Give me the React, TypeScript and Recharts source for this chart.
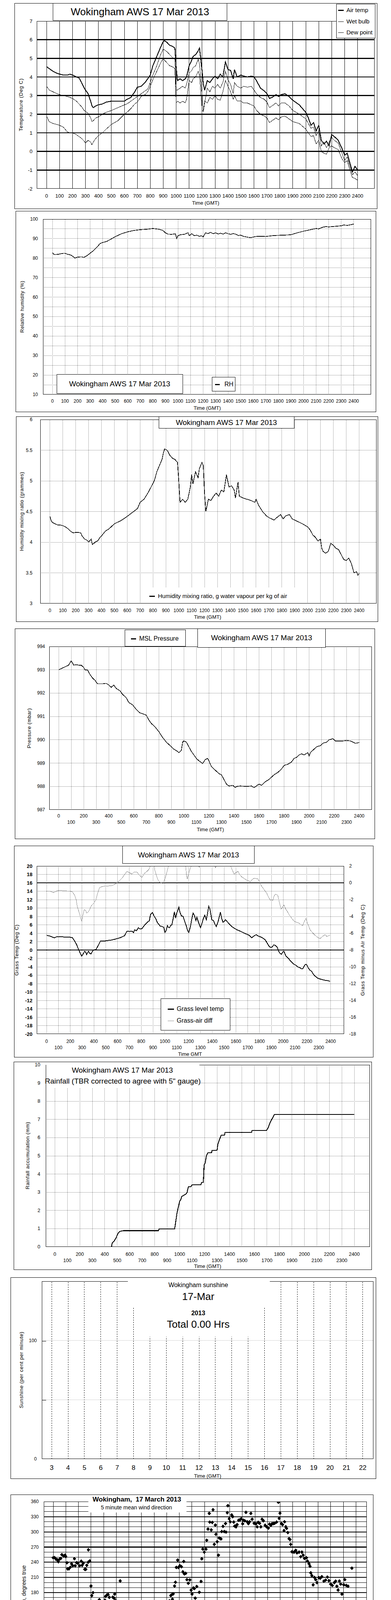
import React from "react";
import { ComposedChart, Line, Scatter, XAxis, YAxis, ReferenceLine } from "recharts";

const FONT = '"Liberation Sans", Arial, Helvetica, sans-serif';
type Pt = [number, number];

// 1. temperatures, time as hhmm, deg C
const airTemp: Pt[] = [[0,4.55],[20,4.45],[50,4.3],[80,4.2],[100,4.15],[130,4.1],[160,4.1],[180,4.15],[200,4.1],[230,4.0],[250,3.95],[270,3.7],[290,3.4],[300,3.3],[320,3.1],[340,2.7],[350,2.45],[360,2.35],[380,2.45],[400,2.5],[430,2.55],[460,2.65],[500,2.7],[550,2.7],[600,2.7],[620,2.8],[650,2.9],[680,3.2],[700,3.45],[730,3.5],[760,3.7],[780,3.9],[800,4.1],[820,4.6],[850,5.1],[880,5.6],[900,5.9],[910,5.95],[930,5.85],[950,5.7],[970,5.65],[990,5.55],[1000,4.5],[1010,3.8],[1030,3.9],[1050,3.8],[1070,3.9],[1080,4.0],[1100,4.6],[1120,4.9],[1130,5.1],[1150,5.2],[1170,5.4],[1180,5.55],[1200,4.3],[1210,3.6],[1220,3.3],[1240,3.8],[1260,3.7],[1280,3.9],[1300,4.05],[1320,3.9],[1340,4.15],[1360,4.0],[1380,4.8],[1400,4.4],[1420,4.35],[1440,3.9],[1450,4.4],[1470,4.0],[1500,4.1],[1520,4.05],[1550,4.0],[1580,4.05],[1600,4.0],[1620,3.8],[1650,3.4],[1680,3.25],[1700,3.1],[1720,2.85],[1740,2.9],[1770,3.05],[1790,2.95],[1810,3.05],[1840,3.1],[1870,2.95],[1900,2.75],[1950,2.5],[2000,2.1],[2020,1.8],[2040,1.4],[2060,1.55],[2080,1.1],[2100,1.4],[2120,0.6],[2140,0.4],[2160,0.55],[2180,0.3],[2200,0.9],[2220,0.8],[2250,0.6],[2280,0.15],[2300,-0.2],[2320,-0.1],[2340,-0.6],[2360,-1.1],[2380,-0.8],[2400,-1.0]];
const wetBulb: Pt[] = [[0,3.5],[20,3.3],[50,3.2],[80,3.1],[100,3.05],[130,3.0],[160,2.95],[180,2.9],[200,2.85],[230,2.7],[250,2.55],[270,2.4],[290,2.2],[300,2.15],[320,2.05],[340,1.8],[350,1.6],[360,1.65],[380,1.8],[400,1.85],[430,2.0],[460,2.1],[500,2.2],[550,2.35],[600,2.5],[620,2.55],[650,2.7],[680,2.85],[700,2.95],[730,3.1],[760,3.25],[780,3.35],[800,3.7],[820,4.1],[850,4.6],[880,5.2],[900,5.5],[910,5.45],[930,5.35],[950,5.2],[970,5.05],[990,4.95],[1000,3.3],[1010,3.3],[1030,3.4],[1050,3.5],[1070,3.4],[1080,3.6],[1100,4.2],[1120,4.35],[1130,4.5],[1150,4.6],[1170,4.95],[1180,4.7],[1200,3.0],[1210,2.15],[1220,2.6],[1240,3.4],[1260,3.2],[1280,3.5],[1300,3.4],[1320,3.6],[1340,3.4],[1360,3.7],[1380,4.3],[1400,3.85],[1420,3.6],[1440,3.1],[1450,3.7],[1470,3.5],[1500,3.4],[1520,3.5],[1550,3.45],[1580,3.5],[1600,3.3],[1620,3.1],[1650,2.9],[1680,2.8],[1700,2.65],[1720,2.35],[1740,2.45],[1770,2.6],[1790,2.45],[1810,2.6],[1840,2.6],[1870,2.45],[1900,2.2],[1950,2.0],[2000,1.75],[2020,1.5],[2040,1.25],[2060,1.3],[2080,0.85],[2100,1.1],[2120,0.3],[2140,0.5],[2160,0.2],[2180,0.5],[2200,0.75],[2220,0.6],[2250,0.45],[2280,-0.1],[2300,-0.5],[2320,-0.3],[2340,-0.8],[2360,-1.25],[2380,-1.1],[2400,-1.3]];
const dewPoint: Pt[] = [[0,1.9],[20,1.6],[50,1.5],[80,1.45],[100,1.4],[130,1.3],[160,1.05],[180,1.0],[200,1.0],[230,0.9],[250,0.8],[270,0.7],[290,0.55],[300,0.45],[320,0.6],[340,0.5],[350,0.35],[360,0.5],[380,0.7],[400,0.85],[430,1.0],[460,1.2],[500,1.45],[550,1.65],[600,2.0],[620,2.1],[650,2.3],[680,2.55],[700,2.65],[730,2.95],[760,3.05],[780,3.2],[800,3.5],[820,3.85],[850,4.3],[880,4.75],[900,5.0],[910,4.9],[930,4.75],[950,4.6],[970,4.55],[990,4.45],[1000,2.6],[1010,2.7],[1030,2.6],[1050,2.7],[1070,2.6],[1080,2.8],[1100,3.8],[1120,3.7],[1130,3.9],[1150,4.0],[1170,4.3],[1180,4.1],[1200,2.2],[1210,2.15],[1220,2.7],[1240,2.6],[1260,2.9],[1280,2.8],[1300,3.0],[1320,2.8],[1340,2.75],[1360,3.2],[1380,3.8],[1400,3.5],[1420,3.2],[1440,2.8],[1450,3.0],[1470,2.7],[1500,2.7],[1520,2.6],[1550,2.6],[1580,2.5],[1600,2.45],[1620,2.2],[1650,2.0],[1680,1.9],[1700,1.8],[1720,1.55],[1740,1.65],[1770,1.8],[1790,1.7],[1810,1.85],[1840,1.9],[1870,1.75],[1900,1.6],[1950,1.5],[2000,1.2],[2020,1.0],[2040,0.8],[2060,0.85],[2080,0.4],[2100,0.6],[2120,0.0],[2140,-0.1],[2160,-0.15],[2180,0.2],[2200,0.3],[2220,0.2],[2250,0.1],[2280,-0.4],[2300,-0.6],[2320,-0.5],[2340,-1.0],[2360,-1.4],[2380,-1.45],[2400,-1.55]];

// 2. relative humidity %
const relHum: Pt[] = [[0,83],[10,82],[20,81.8],[50,82],[80,82.4],[100,82.5],[120,82],[150,81.5],[170,80.5],[180,80],[200,80.5],[230,80.7],[250,80.4],[270,81],[300,82.5],[330,84],[360,86],[380,87.5],[400,88],[430,88.5],[460,89.5],[500,91],[550,92.5],[600,93.5],[650,94.2],[700,94.6],[750,94.8],[800,95.2],[850,94.8],[880,94.2],[900,93],[920,92.3],[950,92.2],[980,92.5],[990,90],[1000,91.5],[1020,92],[1050,92.2],[1080,93],[1090,91.5],[1110,92.5],[1130,91.5],[1150,91.8],[1170,91.2],[1190,91.5],[1200,90.8],[1220,93],[1240,92.6],[1260,93.2],[1280,92.5],[1300,93],[1320,92.4],[1340,92.8],[1360,92.3],[1380,93],[1400,92.5],[1420,92.2],[1440,92.6],[1460,92.3],[1480,91.6],[1500,91.8],[1520,91.2],[1550,90.8],[1580,90.5],[1600,90.8],[1620,91.1],[1650,91.2],[1700,91.1],[1750,91.5],[1800,91.7],[1850,91.8],[1900,92.0],[1950,93],[2000,93.8],[2050,94.5],[2100,95.2],[2120,95],[2150,95.8],[2180,96.2],[2200,96],[2250,96.3],[2300,96.6],[2320,97],[2350,96.8],[2380,97.2],[2400,97.5]];

// 3. mixing ratio g/kg
const mixRatio: Pt[] = [[0,4.42],[10,4.35],[20,4.32],[40,4.3],[60,4.28],[80,4.28],[100,4.27],[120,4.25],[140,4.22],[160,4.18],[180,4.15],[200,4.16],[220,4.16],[240,4.15],[250,4.1],[270,4.05],[290,4.03],[300,4.0],[320,4.05],[330,3.96],[350,4.0],[370,4.02],[390,4.08],[400,4.1],[430,4.18],[460,4.22],[500,4.3],[550,4.35],[600,4.42],[630,4.47],[650,4.5],[680,4.55],[700,4.65],[730,4.7],[760,4.8],[790,4.92],[810,5.0],[830,5.15],[850,5.25],[870,5.35],[880,5.45],[890,5.52],[910,5.5],[930,5.42],[950,5.37],[970,5.35],[990,5.3],[1000,5.0],[1010,4.65],[1030,4.7],[1050,4.65],[1070,4.7],[1090,4.9],[1100,5.1],[1110,4.95],[1130,5.15],[1150,5.05],[1160,5.2],[1180,5.3],[1190,5.25],[1200,4.8],[1210,4.5],[1230,4.7],[1250,4.68],[1270,4.75],[1290,4.8],[1310,4.75],[1330,4.85],[1350,4.82],[1370,5.1],[1390,4.9],[1410,4.92],[1430,4.85],[1440,4.72],[1460,4.98],[1470,4.75],[1500,4.72],[1530,4.7],[1560,4.68],[1590,4.65],[1600,4.7],[1620,4.6],[1650,4.5],[1680,4.43],[1700,4.4],[1720,4.38],[1740,4.36],[1760,4.4],[1790,4.45],[1810,4.38],[1830,4.43],[1860,4.45],[1880,4.38],[1900,4.36],[1930,4.33],[1960,4.3],[2000,4.25],[2020,4.2],[2040,4.12],[2060,4.08],[2080,4.02],[2100,4.05],[2110,3.9],[2120,3.85],[2140,3.82],[2160,3.85],[2180,3.98],[2200,3.95],[2220,3.9],[2240,3.88],[2260,3.8],[2280,3.72],[2300,3.7],[2320,3.74],[2340,3.65],[2360,3.5],[2380,3.52],[2390,3.46],[2400,3.49]];

// 4. MSL pressure mbar
const pressure: Pt[] = [[0,993.0],[20,993.05],[40,993.1],[60,993.15],[80,993.2],[90,993.3],[100,993.38],[110,993.3],[120,993.2],[140,993.22],[160,993.2],[180,993.2],[200,993.1],[210,993.0],[230,993.0],[250,992.8],[270,992.65],[290,992.55],[310,992.4],[350,992.4],[380,992.42],[400,992.35],[420,992.25],[440,992.35],[460,992.2],[490,992.1],[510,991.95],[540,991.8],[560,991.6],[590,991.5],[620,991.3],[650,991.15],[680,991.1],[700,991.05],[720,990.85],[740,990.7],[770,990.55],[800,990.35],[830,990.1],[860,989.9],[890,989.75],[920,989.6],[950,989.5],[960,989.45],[980,989.55],[990,989.9],[1000,989.95],[1020,989.9],[1040,989.7],[1060,989.5],[1080,989.35],[1100,989.2],[1120,989.1],[1150,988.98],[1170,989.15],[1190,989.2],[1200,989.1],[1220,988.85],[1250,988.7],[1280,988.55],[1300,988.5],[1320,988.3],[1340,988.1],[1360,988.02],[1390,988.05],[1410,987.95],[1420,988.0],[1450,988.02],[1500,988.0],[1540,988.02],[1560,987.95],[1580,988.02],[1600,988.1],[1620,988.05],[1650,988.2],[1680,988.3],[1700,988.4],[1720,988.5],[1750,988.6],[1780,988.75],[1800,988.9],[1830,988.95],[1860,989.05],[1880,989.2],[1900,989.25],[1920,989.35],[1940,989.4],[1960,989.35],[1990,989.45],[2000,989.3],[2010,989.45],[2030,989.55],[2060,989.7],[2090,989.75],[2110,989.85],[2140,989.9],[2160,990.0],[2190,990.05],[2210,989.95],[2240,989.95],[2270,989.95],[2300,989.97],[2330,989.95],[2350,989.9],[2370,989.85],[2400,989.88]];

// 5. grass temperature and grass minus air
const grassTemp: Pt[] = [[0,3.5],[30,3.3],[65,2.9],[90,3.2],[150,3.1],[217,3.0],[238,2.1],[255,1.2],[269,0.2],[285,-0.8],[297,-1.45],[310,-0.9],[322,-0.3],[330,-0.5],[339,-1.1],[347,-0.6],[354,-0.3],[365,-0.8],[375,-0.95],[386,-0.4],[396,0.0],[417,0.1],[435,1.0],[455,2.1],[480,2.1],[512,2.25],[545,2.35],[575,2.55],[620,2.9],[659,3.4],[670,4.0],[680,4.5],[700,4.4],[722,4.5],[735,4.1],[743,4.8],[760,4.6],[775,5.3],[790,5.0],[806,5.1],[830,6.0],[848,6.5],[869,7.0],[875,8.0],[880,8.5],[895,8.9],[910,8.0],[922,7.5],[935,6.6],[943,6.3],[960,5.7],[975,5.6],[985,5.5],[990,5.4],[1000,4.2],[1010,4.6],[1021,5.8],[1030,5.4],[1038,5.3],[1050,5.9],[1059,6.0],[1070,7.5],[1080,9.1],[1090,7.6],[1100,8.8],[1110,9.5],[1118,10.2],[1128,8.9],[1140,8.1],[1154,8.0],[1165,7.0],[1180,5.8],[1192,4.6],[1202,4.2],[1215,5.5],[1228,7.5],[1238,8.8],[1250,8.2],[1262,7.0],[1270,7.8],[1285,6.5],[1301,5.3],[1315,6.5],[1325,7.5],[1337,8.3],[1350,7.2],[1362,9.0],[1370,10.4],[1380,9.8],[1396,7.2],[1410,7.0],[1422,6.2],[1434,5.6],[1450,6.8],[1460,8.0],[1469,9.0],[1480,7.5],[1491,6.6],[1500,6.8],[1512,7.2],[1525,6.8],[1540,6.3],[1564,5.6],[1590,5.1],[1610,4.8],[1627,4.6],[1650,4.3],[1680,3.9],[1712,3.5],[1733,2.9],[1750,3.3],[1771,3.65],[1790,3.3],[1810,3.1],[1830,2.8],[1848,2.4],[1865,1.6],[1880,0.9],[1891,0.64],[1905,0.7],[1920,1.2],[1933,1.1],[1950,0.6],[1962,-0.3],[1972,-0.8],[1985,-1.0],[1995,-0.5],[2006,-0.3],[2020,-1.3],[2035,-1.8],[2048,-2.1],[2060,-2.6],[2075,-3.0],[2091,-3.4],[2105,-3.6],[2120,-4.0],[2140,-4.2],[2155,-4.5],[2164,-4.5],[2178,-3.8],[2188,-3.4],[2196,-3.4],[2210,-4.2],[2225,-4.8],[2238,-5.0],[2255,-5.8],[2269,-6.2],[2290,-6.7],[2322,-7.0],[2350,-7.2],[2375,-7.3],[2396,-7.45]];
const grassAirDiff: Pt[] = [[0,-0.99],[30,-1.0],[59,-1.17],[80,-1.0],[101,-0.9],[150,-0.95],[217,-1.04],[238,-1.5],[250,-2.0],[259,-2.8],[270,-3.3],[280,-3.76],[290,-4.3],[297,-4.56],[305,-4.0],[318,-3.2],[330,-3.3],[339,-3.6],[350,-3.5],[364,-3.2],[375,-2.8],[389,-2.56],[400,-2.4],[417,-2.0],[430,-1.3],[448,-0.56],[470,-0.45],[490,-0.4],[520,-0.38],[554,-0.32],[575,-0.2],[596,0.0],[615,0.25],[638,0.56],[660,1.0],[680,1.36],[700,1.2],[722,1.04],[740,1.3],[764,1.28],[785,0.9],[806,0.64],[825,1.1],[848,1.36],[865,1.6],[880,2.1],[890,2.6],[901,2.5],[915,1.5],[928,0.88],[940,0.4],[954,0.08],[970,0.0],[985,-0.08],[995,0.3],[1006,0.72],[1017,1.3],[1027,1.84],[1040,2.2],[1048,2.5],[1100,3.0],[1160,2.5],[1175,2.05],[1182,1.0],[1189,0.48],[1198,0.9],[1206,1.36],[1216,1.8],[1227,2.1],[1260,2.4],[1280,2.1],[1290,1.84],[1300,2.05],[1400,2.3],[1420,2.05],[1427,1.76],[1435,2.05],[1500,2.4],[1554,2.05],[1570,1.5],[1585,1.04],[1600,1.2],[1617,1.36],[1632,1.0],[1648,0.72],[1670,0.5],[1691,0.32],[1705,0.25],[1722,0.11],[1738,0.4],[1754,0.56],[1770,0.5],[1785,0.48],[1800,0.1],[1817,-0.4],[1838,-0.8],[1859,-1.2],[1875,-1.7],[1891,-2.08],[1902,-2.0],[1912,-2.1],[1922,-1.6],[1933,-1.36],[1944,-1.4],[1954,-1.5],[1965,-2.2],[1981,-3.12],[1993,-2.9],[2006,-2.64],[2020,-3.1],[2034,-3.4],[2048,-3.76],[2070,-4.2],[2091,-4.56],[2110,-4.7],[2133,-4.8],[2150,-5.0],[2164,-5.1],[2178,-4.6],[2192,-4.24],[2205,-4.8],[2227,-5.6],[2245,-5.9],[2269,-6.24],[2290,-6.5],[2312,-6.64],[2330,-6.4],[2354,-6.16],[2368,-6.4],[2381,-6.3],[2396,-6.24]];

// 6. rainfall accumulation mm
const rainfall: Pt[] = [[0,0],[454,0],[460,0.22],[476,0.33],[490,0.48],[500,0.65],[510,0.78],[520,0.85],[550,0.89],[830,0.89],[836,0.985],[960,0.985],[965,1.2],[980,1.9],[990,2.19],[1000,2.5],[1010,2.6],[1016,2.76],[1040,2.86],[1050,2.9],[1060,3.0],[1070,3.3],[1090,3.3],[1100,3.41],[1170,3.41],[1176,3.54],[1190,3.54],[1196,4.48],[1204,4.6],[1216,5.03],[1226,5.17],[1256,5.17],[1260,5.3],[1300,5.3],[1306,5.62],[1320,5.91],[1334,6.14],[1360,6.14],[1364,6.28],[1576,6.28],[1580,6.39],[1696,6.39],[1710,6.55],[1724,6.81],[1740,7.02],[1750,7.14],[1760,7.27],[2400,7.27]];

// 7. sunshine, hour -> per cent per minute
const sunshine: Pt[] = [[3,0],[4,0],[5,0],[6,0],[7,0],[8,0],[9,0],[10,0],[11,0],[12,0],[13,0],[14,0],[15,0],[16,0],[17,0],[18,0],[19,0],[20,0],[21,0],[22,0]];

// 8. 5 minute mean wind direction, hour -> degrees
const windDir: Pt[] = [[0,249],[0.11,249],[0.22,246],[0.32,245],[0.4,241],[0.5,246],[0.6,247.5],[0.68,255],[0.83,252],[0.94,254],[0.99,251],[1.09,239],[1.14,227],[1.24,227],[1.35,230],[1.45,237],[1.55,233],[1.68,247],[1.74,233],[1.86,239],[1.96,238],[2.09,233],[2.22,242],[2.29,234],[2.38,238],[2.5,226],[2.58,226],[2.66,234],[2.77,240],[2.79,264.6],[2.89,242.5],[2.99,193],[3.05,174],[3.15,180],[3.25,152],[3.3,161],[3.4,152],[3.51,158],[3.66,166],[3.73,163],[3.8,149],[3.92,153],[4.0,152],[4.1,165],[4.15,172.5],[4.25,175],[4.35,176],[4.45,170.5],[4.59,162],[4.72,171],[4.83,169],[4.87,177],[4.95,164],[5.05,152],[5.13,157],[5.21,151],[5.31,203],[5.41,144],[5.46,127],[5.57,88.5],[5.62,63],[5.72,70],[5.82,66],[5.98,70],[6.13,58],[6.29,45],[6.39,39],[6.49,52],[6.57,54.5],[6.65,45.4],[6.78,62.6],[6.9,53],[7.06,59.5],[7.16,66],[7.26,73],[7.42,82.6],[7.52,84],[7.62,109],[7.75,129],[7.88,118],[7.96,134],[8.06,142],[8.14,138],[8.24,139.6],[8.37,140],[8.5,140],[8.55,158.5],[8.65,156],[8.78,154.6],[8.88,157],[8.99,154.6],[9.12,162],[9.22,163.6],[9.32,174],[9.45,167],[9.45,177],[9.52,177.6],[9.62,193],[9.69,200.5],[9.76,229.7],[9.87,244.5],[9.93,229.7],[10.04,233],[10.17,231],[10.28,221],[10.35,241.7],[10.4,217],[10.5,218],[10.6,205.5],[10.71,198.4],[10.83,205],[10.93,184.7],[11.01,177],[11.11,189],[11.19,188],[11.26,169],[11.38,192],[11.52,158.5],[11.58,180.6],[11.72,202],[11.78,246.8],[11.86,266],[11.98,260],[12.11,266],[12.17,283.5],[12.27,305.6],[12.37,336.5],[12.41,319.4],[12.53,304],[12.61,318.8],[12.67,343.8],[12.77,275.3],[12.85,313.5],[12.9,295.3],[13.0,280.6],[13.1,254],[13.16,288],[13.3,286],[13.36,300.6],[13.46,311],[13.56,300.6],[13.66,316.5],[13.7,299.7],[13.8,338],[13.85,351.8],[13.95,326],[14.03,320],[14.15,333.5],[14.23,330],[14.31,319.4],[14.39,311.5],[14.49,310],[14.58,314.4],[14.7,323],[14.82,324],[14.9,326],[15.02,316],[15.08,323],[15.18,322],[15.28,338.5],[15.38,320],[15.47,316.5],[15.57,320],[15.67,336.5],[15.77,325],[15.93,317],[16.07,316],[16.17,310],[16.26,319],[16.36,317],[16.46,310],[16.56,325],[16.66,322],[16.8,313],[16.92,310],[17.06,307.6],[17.15,315.3],[17.25,313],[17.35,316],[17.45,316.5],[17.55,317],[17.71,319.4],[17.85,358.5],[17.91,326.8],[17.98,337],[18.1,316.5],[18.18,314.4],[18.3,302.6],[18.34,320],[18.44,310],[18.5,307],[18.6,298.8],[18.7,286.5],[18.77,285],[18.83,275.3],[18.93,260.6],[19.09,260],[19.23,263.5],[19.33,258.5],[19.49,260],[19.62,251],[19.72,260],[19.82,254],[19.92,247.6],[20.08,248.8],[20.16,242.4],[20.28,237],[20.36,232],[20.42,219],[20.51,213.5],[20.61,195.3],[20.71,210],[20.81,205.6],[20.91,199.7],[21.07,209.4],[21.17,208.5],[21.3,211.5],[21.46,202.6],[21.6,204.7],[21.74,210.6],[21.86,203.5],[22.0,196.8],[22.13,194],[22.29,199.7],[22.39,202.6],[22.49,192.4],[22.59,185],[22.69,202.6],[22.79,196.8],[22.89,177],[23.04,195.3],[23.12,205.6],[23.24,194],[23.38,192.4],[23.48,98.2],[23.58,26],[23.68,228.2],[23.74,129],[23.83,86.5],[23.91,113]];

// 9. wind speed knots: 10 min mean, max gust, mean x10 markers
const meanSpeed: Pt[] = [[0.03,8.9],[0.13,8.9],[0.21,10.0],[0.33,9.4],[0.48,8.5],[0.64,7.4],[0.84,7.4],[0.99,6.8],[1.14,7.0],[1.24,6.4],[1.39,7.2],[1.55,6.2],[1.65,6.9],[1.8,7.9],[1.9,6.4],[2.1,5.7],[2.2,4.5],[2.37,5.3],[2.51,4.0],[2.66,3.8],[2.86,2.6],[3.06,2.1],[3.26,2.8],[3.46,3.2],[3.67,2.8],[4.02,3.8],[4.27,3.2],[4.42,2.55],[4.68,3.2],[4.98,3.6],[5.18,2.8],[5.33,1.7],[5.48,1.06],[5.64,1.7],[5.89,2.1],[6.19,2.3],[6.44,2.55],[6.7,2.8],[7.0,3.0],[7.2,3.4],[7.45,3.6],[7.6,2.55],[7.79,1.3],[7.91,2.55],[8.06,4.0],[8.21,4.9],[8.46,5.5],[8.62,5.3],[8.82,8.5],[8.97,7.2],[9.12,8.3],[9.27,7.7],[9.42,5.5],[9.63,5.5],[9.78,5.7],[9.98,10],[10.13,8.9],[10.33,7.0],[10.59,5.5],[10.74,3.6],[10.99,2.8],[11.24,2.8],[11.55,2.1],[11.77,2.9],[11.97,8.2],[12.16,6.5],[12.35,4.1],[12.64,2.9],[12.93,1.5],[13.22,1.8],[13.51,3.5],[13.9,3.2],[14.19,2.9],[14.48,5.0],[14.87,4.4],[15.16,4.7],[15.45,4.1],[15.84,2.9],[16.22,5.0],[16.61,5.9],[16.9,6.8],[17.19,5.9],[17.48,6.5],[17.77,5.0],[18.06,3.2],[18.45,3.5],[18.84,3.2],[19.13,4.1],[19.52,4.7],[19.81,4.1],[20.1,2.9],[20.39,1.8],[20.68,1.2],[20.97,2.6],[21.26,2.4],[21.55,2.1],[21.84,3.8],[22.13,4.1],[22.42,3.5],[22.71,2.9],[23.1,2.6],[23.48,2.4],[23.68,0.6],[23.87,0.3],[24.07,0.6]];
const gustSpeed: Pt[] = [[0,11],[0.03,17.5],[0.08,12],[0.12,15],[0.18,10],[0.22,14],[0.28,11],[0.33,13],[0.4,9.5],[0.45,12.5],[0.5,9],[0.55,11.5],[0.6,8.5],[0.65,12],[0.72,9],[0.78,11],[0.85,8],[0.9,12.5],[0.95,9],[1.0,11],[1.05,8.5],[1.1,10.5],[1.15,8],[1.2,11],[1.25,8.5],[1.32,10],[1.38,7.5],[1.45,10],[1.5,8],[1.55,9.5],[1.62,7],[1.67,13],[1.72,8],[1.78,10],[1.85,7.5],[1.9,9.5],[1.95,7],[2.0,8.5],[2.05,6.5],[2.1,9],[2.15,5.5],[2.2,8],[2.27,5.5],[2.33,7.5],[2.4,5],[2.45,8.5],[2.5,5],[2.55,6.5],[2.62,4.5],[2.7,5],[2.8,3.5],[2.9,3],[3.0,3.5],[3.1,4.5],[3.2,3.5],[3.3,4.8],[3.4,3.5],[3.5,5],[3.6,4],[3.7,5.5],[3.8,4],[3.9,5.5],[4.0,4.5],[4.1,5.3],[4.2,3.8],[4.3,5.5],[4.4,3.5],[4.5,5],[4.6,4],[4.7,5.2],[4.8,4],[4.9,5.5],[5.0,4.5],[5.1,4],[5.2,3.5],[5.3,2.5],[5.4,2],[5.5,1.5],[5.6,2.5],[5.7,3.5],[5.8,2.5],[5.9,3.5],[6.0,2.8],[6.1,4],[6.2,3],[6.3,4.2],[6.4,3],[6.5,4.5],[6.6,3.2],[6.7,5],[6.8,3.5],[6.9,5.5],[7.0,4],[7.1,5.5],[7.2,4],[7.3,6],[7.4,4],[7.5,5],[7.6,3],[7.7,5.5],[7.8,3],[7.9,6],[7.95,5],[8.0,9],[8.05,5.5],[8.1,10],[8.2,7],[8.3,10.5],[8.4,7.5],[8.5,11],[8.6,8],[8.7,14.5],[8.8,9],[8.9,13],[9.0,8.5],[9.1,14],[9.2,9],[9.3,11],[9.4,6],[9.5,7.5],[9.6,5.5],[9.7,8],[9.8,6],[9.9,12],[9.95,17.3],[10.0,11],[10.1,15],[10.2,9],[10.3,11],[10.4,7],[10.5,9.5],[10.6,6],[10.7,8],[10.8,4.5],[10.9,7],[11.0,4],[11.1,6.5],[11.2,4],[11.3,5.5],[11.4,3.5],[11.5,6],[11.6,3.5],[11.7,5.5],[11.8,3.5],[11.9,14.8],[11.95,10],[12.0,12],[12.1,8],[12.2,9.5],[12.3,5.5],[12.4,6.5],[12.5,4],[12.6,5],[12.7,2.5],[12.8,4],[12.9,2],[13.0,4],[13.1,3],[13.2,5],[13.3,3.5],[13.4,6],[13.5,4],[13.6,6.5],[13.7,3.5],[13.8,5.5],[13.9,4],[14.0,5],[14.1,3.5],[14.2,7],[14.3,5],[14.4,8],[14.5,6],[14.6,7.5],[14.7,5.5],[14.8,7],[14.9,5],[15.0,6.5],[15.1,5],[15.2,6.5],[15.3,4.5],[15.4,6],[15.5,4],[15.6,5.5],[15.7,4],[15.8,5],[15.9,4.5],[16.0,7],[16.1,5.5],[16.2,8],[16.3,6],[16.4,9.5],[16.5,7],[16.6,10.5],[16.7,7.5],[16.8,11],[16.9,8],[17.0,9.5],[17.1,7],[17.2,10],[17.3,7],[17.4,9],[17.5,6.5],[17.6,8],[17.7,5.5],[17.8,6.5],[17.9,4],[18.0,5],[18.1,3.5],[18.2,5.5],[18.3,4],[18.4,6],[18.5,4.5],[18.6,7],[18.7,5],[18.8,8],[18.9,5.5],[19.0,7.5],[19.1,5],[19.2,6],[19.3,4.5],[19.4,5.5],[19.5,4],[19.6,5],[19.7,3.5],[19.8,4.5],[19.9,3.5],[20.0,4],[20.1,2.5],[20.2,3.5],[20.3,2],[20.4,3],[20.5,1.8],[20.6,2.5],[20.7,1.5],[20.8,3],[20.9,4],[21.0,3.5],[21.1,4.5],[21.2,3.5],[21.3,4.5],[21.4,3.5],[21.5,4],[21.6,4],[21.7,5],[21.8,5.5],[21.9,4.5],[22.0,5.5],[22.1,4.5],[22.2,5],[22.3,4],[22.4,4.5],[22.5,3.5],[22.6,4],[22.7,3],[22.8,3.8],[22.9,2.8],[23.0,3.5],[23.1,2.8],[23.2,3.5],[23.3,2.5],[23.4,3.5],[23.5,2.5],[23.6,1.2],[23.7,1.0],[23.8,0.5],[23.9,1.2],[24.0,1.0]];
const speedX10: Pt[] = [[2.56,39.7],[2.64,39.3],[2.74,38.6],[2.78,37.7],[2.76,36.1],[2.78,33.2],[2.78,31.2],[2.84,29.2],[2.86,27.1],[2.88,25.7],[2.91,23.8],[2.94,22.9],[2.96,22.0],[3.01,21.4],[3.06,21.0],[3.11,22.2],[3.14,23.7],[3.16,25.6],[3.21,27.1],[3.26,28.3],[3.29,29.6],[3.36,30.4],[3.41,31.7],[3.46,33.2],[3.52,32.3],[3.57,29.0],[3.62,27.1],[3.67,27.9],[3.72,26.6],[3.77,28.8],[3.79,29.8],[3.85,31.3],[3.89,32.5],[3.92,35.1],[3.94,38.0],[3.99,37.4],[4.02,36.3],[4.07,35.5],[4.09,34.2],[4.12,32.5],[4.17,31.7],[4.25,31.3],[4.32,30.8],[4.35,29.6],[4.37,28.1],[4.39,26.8],[4.42,25.8],[4.47,27.3],[4.53,29.2],[4.58,30.4],[4.63,31.3],[4.68,31.9],[4.73,33.0],[4.73,36.7],[4.78,34.4],[4.83,33.8],[4.88,34.8],[4.93,34.2],[4.98,33.4],[5.01,32.1],[5.03,30.4],[5.08,29.8],[5.13,28.3],[5.16,26.8],[5.18,25.6],[5.2,24.1],[5.21,22.6],[5.23,21.4],[5.25,19.9],[5.26,18.8],[5.28,17.8],[5.3,16.3],[5.33,15.1],[5.33,13.1],[5.43,11.9],[5.48,10.8],[5.54,13.1],[5.57,14.9],[5.59,18.6],[5.64,20.1],[5.69,21.2],[5.74,22.0],[5.79,22.4],[5.84,22.8],[5.89,21.6],[5.94,22.4],[5.99,21.2],[6.04,22.0],[6.09,22.6],[6.14,23.9],[6.19,24.9],[6.24,26.6],[6.29,27.5],[6.34,26.0],[6.37,24.2],[6.41,22.8],[6.44,21.6],[6.49,23.1],[6.55,24.5],[6.6,25.4],[6.65,23.9],[6.7,24.7],[6.75,27.3],[6.8,28.1],[6.85,29.2],[6.9,30.6],[6.95,31.1],[7.0,29.8],[7.05,28.7],[7.1,27.3],[7.15,26.2],[7.12,24.7],[7.15,33.4],[7.18,35.1],[7.22,36.1],[7.3,36.1],[7.35,35.5],[7.4,34.6],[7.42,33.8],[7.45,32.6],[7.45,30.6],[7.48,29.4],[7.51,28.3],[7.51,27.1],[7.53,26.0],[7.56,23.7],[7.61,22.6],[7.66,21.6],[7.69,20.1],[7.71,19.1],[7.74,18.0],[7.76,16.7],[7.79,15.3],[7.79,13.1],[7.79,11.7],[7.89,18.8],[7.93,23.7],[7.96,20.8],[7.96,26.6],[7.99,28.3],[8.01,29.8],[8.01,32.7],[8.01,34.8],[8.03,37.4],[10.76,39.5],[10.84,35.6],[10.9,33.8],[10.94,32.9],[11.0,31.8],[11.06,30.6],[11.09,28.8],[11.0,27.1],[11.06,25.6],[11.09,24.1],[11.19,30.6],[11.25,32.6],[11.33,29.4],[11.38,27.6],[11.44,27.1],[11.52,28.2],[11.58,27.1],[11.64,25.9],[11.67,29.7],[11.73,27.1],[11.77,24.7],[11.48,22.4],[11.54,20.5],[11.77,22.6],[11.83,21.2],[11.87,33.9],[11.87,27.1],[12.29,39.7],[12.41,38.8],[12.49,39.4],[12.35,36.8],[12.55,35.3],[12.57,33.8],[12.6,31.5],[12.6,29.4],[12.64,27.6],[12.68,24.4],[12.74,22.6],[12.7,21.2],[12.8,20.3],[12.84,18.4],[12.9,16.2],[12.93,13.5],[13.03,15.3],[13.13,17.1],[13.18,18.2],[13.22,21.2],[13.26,22.4],[13.32,25.0],[13.36,27.1],[13.38,30.0],[13.42,32.6],[13.46,36.5],[13.48,38.8],[13.55,34.1],[13.61,32.9],[13.71,35.3],[13.75,37.6],[13.8,35.9],[13.86,34.4],[13.94,36.2],[14.0,35.0],[14.06,31.8],[14.1,27.6],[14.13,26.8],[14.17,25.0],[14.19,30.0],[14.25,33.2],[14.31,36.5],[14.35,39.8],[15.28,38.8],[15.31,36.8],[15.35,34.7],[15.39,32.4],[15.43,30.6],[15.45,29.1],[15.51,34.1],[15.55,37.6],[15.6,35.6],[15.64,32.9],[15.74,38.8],[15.8,35.3],[15.84,33.1],[15.9,31.3],[15.93,37.1],[15.97,39.7],[15.93,35.3],[17.87,39.3],[17.91,37.6],[17.93,35.3],[17.97,33.5],[17.97,29.4],[18.06,30.9],[18.12,32.4],[18.22,36.2],[18.3,34.4],[18.35,32.4],[18.41,30.9],[18.49,32.1],[18.55,33.5],[18.64,32.4],[18.7,30.0],[18.74,27.6],[18.8,25.9],[18.84,24.1],[18.88,26.8],[18.94,29.4],[19.0,30.6],[19.07,32.9],[19.13,35.0],[19.19,37.1],[19.26,39.7],[19.9,38.8],[19.96,36.5],[20.0,34.4],[20.04,32.4],[20.1,30.0],[20.16,27.6],[20.19,25.3],[20.23,22.9],[20.29,27.1],[20.35,29.4],[20.43,27.6],[20.48,24.1],[20.54,21.2],[20.58,18.8],[20.62,16.5],[20.66,14.4],[20.69,12.6],[20.73,10.9],[20.81,12.9],[20.87,16.5],[20.93,19.4],[20.97,22.4],[21.01,25.9],[21.07,28.2],[21.12,30.6],[21.16,29.4],[21.25,27.1],[21.36,25.3],[21.45,24.4],[21.55,23.5],[21.65,22.4],[21.71,24.7],[21.74,27.1],[21.78,30.0],[21.84,32.9],[21.9,35.0],[21.94,37.1],[22.03,37.6],[22.13,37.9],[22.23,37.1],[22.28,35.3],[22.36,33.5],[22.42,31.8],[22.52,29.7],[22.61,27.6],[22.67,25.3],[22.75,24.7],[22.86,22.4],[22.94,21.2],[23.0,19.4],[23.1,21.2],[23.19,21.8],[23.29,21.2],[23.39,21.8],[23.48,20.9],[23.52,20.0],[23.58,16.8],[23.62,15.0],[23.64,13.2],[23.66,10.9],[23.68,7.9],[23.72,5.3],[23.78,3.5],[23.83,4.7],[23.91,2.6],[23.97,4.7],[24.03,5.6],[24.07,6.2]];

// ticks
const steps = (a: number, b: number, s: number) =>
  Array.from({ length: Math.round((b - a) / s) + 1 }, (_, i) => +(a + i * s).toFixed(3));
const hhmmTicks = steps(0, 2400, 100);
const hourTicks = steps(0, 24, 1);
const clockTicks = steps(0, 23, 1);
const sunTicks = steps(3, 22, 1);

const xy = (a: Pt[]) => a.map(([x, y]) => ({ x, y }));

type Rect = { l: number; t: number; r: number; b: number };
const G = 70;

function Frame({ l, t, r, b, w = 1, bg }: Rect & { w?: number; bg?: string }) {
  return (
    <div style={{ position: "absolute", left: l, top: t, width: r - l, height: b - t, border: w ? `${w}px solid #000` : "none", boxSizing: "border-box", background: bg, pointerEvents: "none" }} />
  );
}

function Txt({ x, y, size = 12, bold, rot, anchor = "middle", ls, children }: any) {
  const tx = anchor === "middle" ? "-50%" : anchor === "end" ? "-100%" : "0";
  return (
    <div style={{ position: "absolute", left: x, top: y, transform: `translate(${tx},-50%)${rot ? " rotate(-90deg)" : ""}`, fontSize: size, fontWeight: bold ? "bold" : "normal", fontFamily: FONT, whiteSpace: "nowrap", lineHeight: 1.15, letterSpacing: ls, color: "#000" }}>
      {children}
    </div>
  );
}

function Swatch({ x, y, w, h, c = "#000" }: any) {
  return <div style={{ position: "absolute", left: x, top: y - h / 2, width: w, height: h, background: c }} />;
}

function Chart({ p, right, children }: { p: Rect; right?: boolean; children: React.ReactNode }) {
  return (
    <div style={{ position: "absolute", left: p.l - G, top: p.t - 10 }}>
      <ComposedChart width={p.r - p.l + G + (right ? G : 10)} height={p.b - p.t + 10 + G}
        margin={{ top: 10, right: right ? 0 : 10, bottom: 0, left: 0 }}>
        {children}
      </ComposedChart>
    </div>
  );
}

const xTick = (off: number, size = 12, fmt = (v: number) => String(v), row2?: (v: number) => boolean) => (p: any) => {
  const v = p.payload.value;
  return (
    <text x={p.x} y={p.y + off + (row2 && row2(v) ? 16 : 0)} textAnchor="middle" dominantBaseline="central" fontSize={size} fontFamily={FONT} fill="#000">
      {fmt(v)}
    </text>
  );
};
const yTick = (gap: number, size = 12, fmt = (v: number) => String(v), right = false, bold = false) => (p: any) => (
  <text x={right ? p.x + gap : p.x - gap} y={p.y} textAnchor={right ? "start" : "end"} dominantBaseline="central" fontSize={size} fontFamily={FONT} fontWeight={bold ? "bold" : "normal"} fill="#000">
    {fmt(p.payload.value)}
  </text>
);
const oddHundred = (v: number) => (v / 100) % 2 === 1;
const oddHour = (v: number) => v % 2 === 1;

const axisCommon = { type: "number" as const, interval: 0, allowDataOverflow: true, tickSize: 0, tickMargin: 0, axisLine: false, tickLine: false };

const hLines = (vals: number[], stroke: string, w: number, dash?: string, yAxisId?: string) =>
  vals.map((v) => <ReferenceLine key={"h" + v} y={v} stroke={stroke} strokeWidth={w} strokeDasharray={dash} {...(yAxisId ? { yAxisId } : {})} />);
const vLines = (vals: number[], stroke: string, w: number, dash?: string, yAxisId?: string) =>
  vals.map((v) => <ReferenceLine key={"v" + v} x={v} stroke={stroke} strokeWidth={w} strokeDasharray={dash} {...(yAxisId ? { yAxisId } : {})} />);

const line = (d: Pt[], w: number, stroke = "#000", yAxisId?: string) => (
  <Line data={xy(d)} dataKey="y" type="linear" stroke={stroke} strokeWidth={w} dot={false} activeDot={false} isAnimationActive={false} {...(yAxisId ? { yAxisId } : {})} />
);

const diamond = (hw: number, hh: number, fill: string, stroke: string) => (p: any) => (
  <polygon points={`${p.cx},${p.cy - hh} ${p.cx + hw},${p.cy} ${p.cx},${p.cy + hh} ${p.cx - hw},${p.cy}`} fill={fill} stroke={stroke} strokeWidth={0.8} />
);

const DOT = "#222";

function TempPanel() {
  const p = { l: 94, t: 54, r: 958, b: 483 };
  return (
    <>
      <Frame l={37} t={8} r={965} b={535} />
      <Chart p={p}>
        {vLines(hhmmTicks, "#000", 1)}
        {hLines(steps(-1, 6, 1), "#000", 2.5)}
        <XAxis {...axisCommon} dataKey="x" domain={[-76, 2531]} ticks={hhmmTicks} height={G} tick={xTick(18, 13)} />
        <YAxis {...axisCommon} domain={[-2, 7]} ticks={steps(-2, 7, 1)} width={G} tick={yTick(11, 13)} />
        {line(dewPoint, 1)}
        {line(wetBulb, 1)}
        {line(airTemp, 2.2)}
      </Chart>
      <Frame {...p} />
      <Frame l={135} t={8} r={581} b={53} bg="#fff" />
      <Txt x={358} y={31} size={26}>Wokingham AWS 17 Mar 2013</Txt>
      <Frame l={860} t={10} r={960} b={98} bg="#fff" />
      <Swatch x={865} y={26} w={14} h={3} />
      <Txt x={886} y={26} size={15} anchor="start">Air temp</Txt>
      <Swatch x={865} y={55} w={14} h={1} />
      <Txt x={886} y={55} size={15} anchor="start">Wet bulb</Txt>
      <Swatch x={865} y={83} w={14} h={1} />
      <Txt x={886} y={83} size={15} anchor="start">Dew point</Txt>
      <Txt x={54} y={268} size={13} rot ls={0.7}>Temperature (Deg C)</Txt>
      <Txt x={526} y={520} size={13}>Time (GMT)</Txt>
    </>
  );
}

function RhPanel() {
  const p = { l: 110, t: 561, r: 949, b: 1010 };
  return (
    <>
      <Frame l={40} t={540} r={962} b={1055} />
      <Chart p={p}>
        {vLines(hhmmTicks, DOT, 1, "1 2")}
        {hLines(steps(15, 95, 5), DOT, 1, "1 2")}
        <XAxis {...axisCommon} dataKey="x" domain={[-75, 2538]} ticks={hhmmTicks} height={G} tick={xTick(17, 12)} />
        <YAxis {...axisCommon} domain={[10, 100]} ticks={steps(10, 100, 10)} width={G} tick={yTick(13, 12)} />
        {line(relHum, 1.6)}
      </Chart>
      <Frame {...p} />
      <Frame l={145} t={958} r={468} b={1008} bg="#fff" />
      <Txt x={306} y={983} size={19}>Wokingham AWS 17 Mar 2013</Txt>
      <Frame l={542} t={965} r={602} b={1002} bg="#fff" />
      <Swatch x={550} y={984} w={12} h={3} />
      <Txt x={574} y={984} size={16} anchor="start">RH</Txt>
      <Txt x={57} y={785} size={13} rot ls={0.5}>Relative humidity (%)</Txt>
      <Txt x={530} y={1045} size={13}>Time (GMT)</Txt>
    </>
  );
}

function MixPanel() {
  const p = { l: 103, t: 1074, r: 963, b: 1545 };
  return (
    <>
      <Frame l={41} t={1066} r={967} b={1592} />
      <Chart p={p}>
        {vLines(hhmmTicks, DOT, 1, "1 2")}
        {hLines(steps(3.5, 5.5, 0.5), DOT, 1, "1 2")}
        <XAxis {...axisCommon} dataKey="x" domain={[-75, 2535]} ticks={hhmmTicks} height={G} tick={xTick(18, 12)} />
        <YAxis {...axisCommon} domain={[3, 6]} ticks={steps(3, 6, 0.5)} width={G} tick={yTick(20, 12)} />
        {line(mixRatio, 1.6)}
      </Chart>
      <Frame l={378} t={1503} r={772} b={1544} w={0} bg="#fff" />
      <Frame {...p} />
      <Frame l={406} t={1066} r={753} b={1097} bg="#fff" />
      <Txt x={579} y={1082} size={19}>Wokingham AWS 17 Mar 2013</Txt>
      <Swatch x={382} y={1526} w={14} h={3} />
      <Txt x={404} y={1526} size={15} anchor="start">Humidity mixing ratio, g water vapour per kg of air</Txt>
      <Txt x={56} y={1309} size={13} rot ls={0.5}>Humidity mixing ratio (grammes)</Txt>
      <Txt x={531} y={1580} size={13}>Time (GMT)</Txt>
    </>
  );
}

function PressPanel() {
  const p = { l: 126, t: 1655, r: 951, b: 2073 };
  return (
    <>
      <Frame l={38} t={1609} r={959} b={2148} />
      <Chart p={p}>
        {vLines(hhmmTicks, DOT, 1, "1 2")}
        {hLines(steps(988, 993, 1), DOT, 1, "1 2")}
        <XAxis {...axisCommon} dataKey="x" domain={[-75, 2501]} ticks={hhmmTicks} height={G} tick={xTick(16, 12, String, oddHundred)} />
        <YAxis {...axisCommon} domain={[987, 994]} ticks={steps(987, 994, 1)} width={G} tick={yTick(11, 12)} />
        {line(pressure, 1.6)}
      </Chart>
      <Frame {...p} />
      <Frame l={319} t={1612} r={475} b={1655} bg="#fff" />
      <Swatch x={335} y={1635} w={13} h={3} />
      <Txt x={356} y={1635} size={16} anchor="start">MSL Pressure</Txt>
      <Frame l={505} t={1609} r={833} b={1658} bg="#fff" />
      <Txt x={669} y={1633} size={19}>Wokingham AWS 17 Mar 2013</Txt>
      <Txt x={75} y={1864} size={13} rot ls={0.6}>Pressure (mbar)</Txt>
      <Txt x={538} y={2124} size={13}>Time (GMT)</Txt>
    </>
  );
}

function GrassPanel() {
  const p = { l: 94, t: 2217, r: 880, b: 2647 };
  const dotted = steps(-18, 18, 2).filter((v) => v !== 0 && v !== 16);
  return (
    <>
      <Frame l={36} t={2165} r={955} b={2707} />
      <Chart p={p} right>
        {vLines(hhmmTicks, DOT, 1, "1 2", "L")}
        {hLines(dotted, DOT, 1, "1 2", "L")}
        {hLines([0, 16], "#000", 1.5, undefined, "L")}
        <XAxis {...axisCommon} dataKey="x" domain={[-83, 2514]} ticks={hhmmTicks} height={G} tick={xTick(19, 12, String, oddHundred)} />
        <YAxis {...axisCommon} yAxisId="L" domain={[-20, 20]} ticks={steps(-20, 20, 2)} width={G} tick={yTick(11, 13, String, false, true)} />
        <YAxis {...axisCommon} yAxisId="R" orientation="right" domain={[-18, 2]} ticks={steps(-18, 2, 2)} width={G} tick={yTick(13, 12, String, true)} />
        {line(grassAirDiff, 1, "#8a8a8a", "R")}
        {line(grassTemp, 2, "#000", "L")}
      </Chart>
      <Frame {...p} />
      <Frame l={313} t={2165} r={651} b={2211} bg="#fff" />
      <Txt x={482} y={2189} size={19}>Wokingham AWS 17 Mar 2013</Txt>
      <Frame l={411} t={2556} r={589} b={2638} bg="#fff" />
      <Swatch x={429} y={2583} w={16} h={3} />
      <Txt x={452} y={2583} size={16} anchor="start">Grass level temp</Txt>
      <Swatch x={429} y={2613} w={16} h={1} c="#8a8a8a" />
      <Txt x={452} y={2613} size={16} anchor="start">Grass-air diff</Txt>
      <Txt x={43} y={2432} size={13} rot ls={0.7}>Grass Temp (Deg C)</Txt>
      <Txt x={928} y={2432} size={13} rot ls={0.7}>Grass Temp minus Air Temp (Deg C)</Txt>
      <Txt x={486} y={2699} size={13}>Time GMT</Txt>
    </>
  );
}

function RainPanel() {
  const p = { l: 117, t: 2726, r: 946, b: 3192 };
  return (
    <>
      <Frame l={35} t={2718} r={951} b={3251} />
      <Chart p={p}>
        {vLines(hhmmTicks, DOT, 1, "1 2")}
        {hLines(steps(1, 9, 1), DOT, 1, "1 2")}
        <XAxis {...axisCommon} dataKey="x" domain={[-73, 2525]} ticks={hhmmTicks} height={G} tick={xTick(19, 12.5, String, oddHundred)} />
        <YAxis {...axisCommon} domain={[0, 10]} ticks={steps(0, 10, 1)} width={G} tick={yTick(14, 12.5)} />
        {line(rainfall, 2.2)}
      </Chart>
      <Frame {...p} />
      <Frame l={118} t={2724} r={510} b={2785} w={0} bg="#fff" />
      <Txt x={313} y={2740} size={19}>Wokingham AWS 17 Mar 2013</Txt>
      <Txt x={314} y={2768} size={19}>{'Rainfall (TBR corrected to agree with 5" gauge)'}</Txt>
      <Txt x={71} y={2958} size={13} rot ls={0.6}>Rainfall accumulation (mm)</Txt>
      <Txt x={531} y={3242} size={13}>Time (GMT)</Txt>
    </>
  );
}

function SunPanel() {
  const p = { l: 107, t: 3280, r: 955, b: 3735 };
  return (
    <>
      <Frame l={27} t={3270} r={962} b={3786} />
      <Chart p={p}>
        {vLines(sunTicks, "#000", 1, "3 3")}
        {hLines([50, 100], "#aaa", 1, "1 1")}
        <XAxis {...axisCommon} dataKey="x" domain={[2.4, 22.65]} ticks={sunTicks} height={G} tick={xTick(22, 17)} />
        <YAxis {...axisCommon} domain={[0, 150]} ticks={[0, 50, 100]} width={G} tick={yTick(13, 12, (v) => (v === 50 ? "" : String(v)))} />
        {line(sunshine, 2.5)}
      </Chart>
      <Frame {...p} />
      <Swatch x={107} y={3433} w={11} h={1} />
      <Swatch x={107} y={3584} w={11} h={1} />
      <Frame l={327} t={3279} r={690} b={3345} w={0} bg="#fff" />
      <Frame l={344} t={3345} r={673} b={3422} w={0} bg="#fff" />
      <Txt x={507} y={3290} size={16}>Wokingham sunshine</Txt>
      <Txt x={507} y={3320} size={26}>17-Mar</Txt>
      <Txt x={507} y={3362} size={16} bold>2013</Txt>
      <Txt x={507} y={3391} size={26}>Total 0.00 Hrs</Txt>
      <Txt x={55} y={3507} size={13} rot ls={0.6}>Sunshine (per cent per minute)</Txt>
      <Txt x={531} y={3779} size={13}>Time (GMT)</Txt>
    </>
  );
}

function DirPanel() {
  const p = { l: 112, t: 3844, r: 938, b: 4310 };
  const thin = steps(10, 350, 10).filter((v) => v % 30 !== 0);
  return (
    <>
      <Frame l={27} t={3826} r={955} b={4359} />
      <Chart p={p}>
        {vLines(hourTicks, "#000", 1)}
        {hLines(thin, "#000", 1)}
        {hLines(steps(30, 330, 30), "#000", 2.2)}
        <XAxis {...axisCommon} dataKey="x" domain={[-0.75, 24.86]} ticks={hourTicks} height={G} tick={xTick(19, 12)} />
        <YAxis {...axisCommon} domain={[0, 360]} ticks={steps(0, 360, 30)} width={G} tick={yTick(13, 12)} />
        <Scatter data={xy(windDir)} dataKey="y" shape={diamond(4, 4.5, "#000", "#000")} isAnimationActive={false} />
      </Chart>
      <Frame {...p} />
      <Frame l={226} t={3830} r={477} b={3872} w={0} bg="#fff" />
      <Txt x={350} y={3839} size={17} bold>Wokingham,&nbsp; 17 March 2013</Txt>
      <Txt x={349} y={3859} size={14}>5 minute mean wind direction</Txt>
      <Txt x={61} y={4078} size={14} rot>Direction, degrees true</Txt>
      <Txt x={523} y={4346} size={13}>Time (GMT)</Txt>
    </>
  );
}

function SpeedPanel() {
  const p = { l: 87, t: 4415, r: 951, b: 4810 };
  const fmt = (v: number) => `${String(v).padStart(2, "0")}:00`;
  return (
    <>
      <Frame l={29} t={4371} r={957} b={4885} />
      <Chart p={p}>
        {vLines(steps(0, 25, 1), "#444", 1, "1 2")}
        {hLines(steps(5, 45, 5), "#444", 1, "1 2")}
        <XAxis {...axisCommon} dataKey="x" domain={[-0.77, 25.36]} ticks={clockTicks} height={G} tick={xTick(19, 12, fmt, oddHour)} />
        <YAxis {...axisCommon} domain={[0, 50]} ticks={steps(0, 50, 10)} width={G} tick={yTick(12, 12)} />
        {line(gustSpeed, 1, "#444")}
        {line(meanSpeed, 2, "#000")}
        <Scatter data={xy(speedX10)} dataKey="y" shape={diamond(3.5, 3.7, "#bdbdbd", "#222")} isAnimationActive={false} />
      </Chart>
      <Frame {...p} />
      <Frame l={95} t={4413} r={433} b={4418} w={0} bg="#fff" />
      <Txt x={262} y={4393} size={19}>Wokingham,&nbsp; 17 March 2013</Txt>
      <Txt x={573} y={4383} size={14}>Wind speed, 10 min mean / max gust</Txt>
      <Txt x={573} y={4401} size={13.5}>Mean speed &lt;4 kt shown also at x10 scale</Txt>
      <Frame l={727} t={4376} r={952} b={4403} bg="#fff" />
      <Swatch x={760} y={4390} w={12} h={2} />
      <Txt x={780} y={4390} size={11} anchor="start">Speed x 1</Txt>
      <svg style={{ position: "absolute", left: 847, top: 4385 }} width={10} height={10}>
        <polygon points="5,1 9,5 5,9 1,5" fill="#bdbdbd" stroke="#222" strokeWidth={0.8} />
      </svg>
      <Txt x={866} y={4390} size={11} anchor="start">Speed / 10</Txt>
      <Txt x={44} y={4613} size={14} rot>Speed (knots)</Txt>
      <Txt x={520} y={4862} size={13}>Time (GMT)</Txt>
    </>
  );
}

export default function App() {
  return (
    <div style={{ position: "relative", width: 1000, height: 5000, margin: -8, background: "#fff", fontFamily: FONT, overflow: "hidden", shapeRendering: "crispEdges" }}>
      <TempPanel />
      <RhPanel />
      <MixPanel />
      <PressPanel />
      <GrassPanel />
      <RainPanel />
      <SunPanel />
      <DirPanel />
      <SpeedPanel />
    </div>
  );
}
